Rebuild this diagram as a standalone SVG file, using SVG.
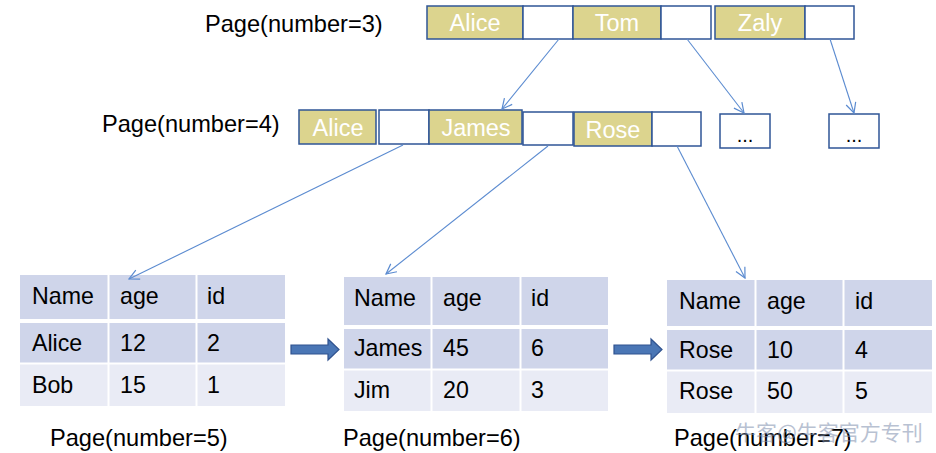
<svg xmlns="http://www.w3.org/2000/svg" width="936" height="453" viewBox="0 0 936 453">
<defs>
<style>
text{font-family:"Liberation Sans",Arial,sans-serif;}
.key{fill:#DCD48E;stroke:#2F5597;stroke-width:1.5;}
.ptr{fill:#FFFFFF;stroke:#2F5597;stroke-width:1.5;}
.kt{fill:#FFFFFF;font-size:23.5px;text-anchor:middle;}
.lbl{fill:#000000;font-size:23.6px;}
.hd{fill:#CFD5EA;}
.r2{fill:#E9EBF5;}
.sep{stroke:#FFFFFF;stroke-width:2;}
.tt{fill:#000000;font-size:23.2px;}
.conn{stroke:#5B8BD0;stroke-width:1.1;fill:none;marker-end:url(#open);}
.blk{fill:#4A76B5;stroke:#2F528F;stroke-width:1.2;}
.dots{fill:#000000;font-size:20px;text-anchor:middle;}
</style>
<marker id="open" viewBox="0 0 12 12" refX="11" refY="6" markerWidth="12" markerHeight="12" markerUnits="userSpaceOnUse" orient="auto">
<path d="M1,1 L11,6 L1,11" fill="none" stroke="#5B8BD0" stroke-width="1.2"/>
</marker>
</defs>
<rect width="936" height="453" fill="#FFFFFF"/>

<g id="label-page3"><text class="lbl" x="205" y="32">Page(number=3)</text></g>
<g id="label-page4"><text class="lbl" x="102" y="132">Page(number=4)</text></g>

<g id="page3">
<rect class="key" x="427" y="6" width="96" height="33"/>
<text class="kt" x="475" y="31">Alice</text>
<rect class="ptr" x="523" y="6" width="50" height="33"/>
<rect class="key" x="573" y="6" width="88" height="33"/>
<text class="kt" x="617" y="31">Tom</text>
<rect class="ptr" x="661" y="6" width="50" height="33"/>
<rect class="key" x="715" y="6" width="90" height="33"/>
<text class="kt" x="760" y="31">Zaly</text>
<rect class="ptr" x="805" y="6" width="49" height="33"/>
</g>

<g id="page4">
<rect class="key" x="299" y="110" width="77" height="34"/>
<text class="kt" x="338" y="136">Alice</text>
<rect class="ptr" x="379" y="110" width="50" height="34"/>
<rect class="key" x="429" y="110" width="93" height="34"/>
<text class="kt" x="476" y="136">James</text>
<rect class="ptr" x="523" y="112" width="50" height="33"/>
<rect class="key" x="574" y="112" width="78" height="34"/>
<text class="kt" x="613" y="138">Rose</text>
<rect class="ptr" x="652" y="112" width="49" height="34"/>
</g>

<g id="more-1">
<rect class="ptr" x="720" y="114" width="50" height="34"/>
<text class="dots" x="745" y="142">...</text>
</g>
<g id="more-2">
<rect class="ptr" x="829" y="114" width="50" height="34"/>
<text class="dots" x="854" y="142">...</text>
</g>

<g id="page5">
<rect class="hd" x="20" y="275" width="265" height="44"/>
<rect class="hd" x="20" y="323" width="265" height="40"/>
<rect class="r2" x="20" y="363" width="265" height="43"/>
<line class="sep" x1="20" y1="321" x2="285" y2="321" style="stroke-width:4"/>
<line class="sep" x1="20" y1="363.5" x2="285" y2="363.5"/>
<line class="sep" x1="108.5" y1="275" x2="108.5" y2="406"/>
<line class="sep" x1="196.5" y1="275" x2="196.5" y2="406"/>
<text class="tt" x="32" y="304">Name</text>
<text class="tt" x="120" y="304">age</text>
<text class="tt" x="207" y="304">id</text>
<text class="tt" x="32" y="351">Alice</text>
<text class="tt" x="120" y="351">12</text>
<text class="tt" x="207" y="351">2</text>
<text class="tt" x="32" y="393">Bob</text>
<text class="tt" x="120" y="393">15</text>
<text class="tt" x="207" y="393">1</text>
<text class="lbl" x="50" y="446">Page(number=5)</text>
</g>

<g id="page6">
<rect class="hd" x="344" y="277" width="264" height="48"/>
<rect class="hd" x="344" y="329" width="264" height="40"/>
<rect class="r2" x="344" y="369" width="264" height="42"/>
<line class="sep" x1="344" y1="327" x2="608" y2="327" style="stroke-width:4"/>
<line class="sep" x1="344" y1="369.5" x2="608" y2="369.5"/>
<line class="sep" x1="431.5" y1="277" x2="431.5" y2="411"/>
<line class="sep" x1="520.5" y1="277" x2="520.5" y2="411"/>
<text class="tt" x="354" y="306">Name</text>
<text class="tt" x="443" y="306">age</text>
<text class="tt" x="531" y="306">id</text>
<text class="tt" x="354" y="356">James</text>
<text class="tt" x="443" y="356">45</text>
<text class="tt" x="531" y="356">6</text>
<text class="tt" x="354" y="398">Jim</text>
<text class="tt" x="443" y="398">20</text>
<text class="tt" x="531" y="398">3</text>
<text class="lbl" x="343" y="446">Page(number=6)</text>
</g>

<g id="page7">
<rect class="hd" x="667" y="280" width="265" height="46"/>
<rect class="hd" x="667" y="330" width="265" height="40"/>
<rect class="r2" x="667" y="370" width="265" height="43"/>
<line class="sep" x1="667" y1="328" x2="932" y2="328" style="stroke-width:4"/>
<line class="sep" x1="667" y1="370.5" x2="932" y2="370.5"/>
<line class="sep" x1="755.5" y1="280" x2="755.5" y2="413"/>
<line class="sep" x1="843.5" y1="280" x2="843.5" y2="413"/>
<text class="tt" x="679" y="309">Name</text>
<text class="tt" x="767" y="309">age</text>
<text class="tt" x="855" y="309">id</text>
<text class="tt" x="679" y="358">Rose</text>
<text class="tt" x="767" y="358">10</text>
<text class="tt" x="855" y="358">4</text>
<text class="tt" x="679" y="399">Rose</text>
<text class="tt" x="767" y="399">50</text>
<text class="tt" x="855" y="399">5</text>
<text class="lbl" x="674" y="446">Page(number=7)</text>
</g>

<g id="connectors">
<line class="conn" x1="559" y1="39" x2="502" y2="109"/>
<line class="conn" x1="687" y1="39" x2="744" y2="113"/>
<line class="conn" x1="830" y1="39" x2="854" y2="113"/>
<line class="conn" x1="403" y1="145" x2="129" y2="279"/>
<line class="conn" x1="548" y1="146" x2="386" y2="274"/>
<line class="conn" x1="677" y1="146" x2="745" y2="278"/>
<path class="blk" d="M291,345 L328,345 L328,339 L339,349.5 L328,360 L328,354 L291,354 Z"/>
<path class="blk" d="M614,345 L651,345 L651,339 L662,349.5 L651,360 L651,354 L614,354 Z"/>
</g>

<g id="watermark" opacity="0.55">
<text x="735" y="440" style="font-family:'Noto Sans CJK SC','Liberation Sans',sans-serif;font-size:21px;fill:#7F8FAE;">牛客@牛客官方专刊</text>
</g>
</svg>
